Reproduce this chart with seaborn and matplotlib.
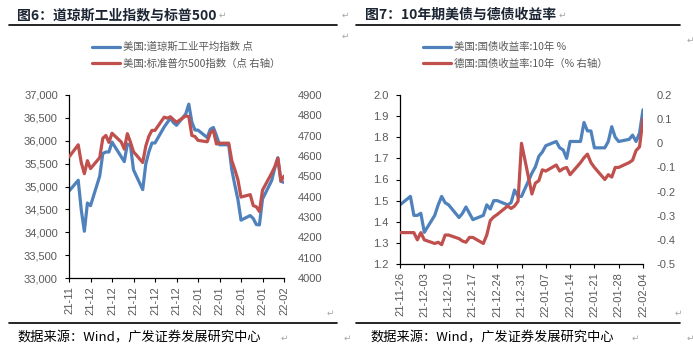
import matplotlib
matplotlib.use("Agg")
import matplotlib.pyplot as plt
import matplotlib.ticker as mticker
import matplotlib.dates as mdates
from matplotlib.lines import Line2D
import pandas as pd
import seaborn as sns

# trading dates shared by both panels (holidays carried forward)
dates = ["2021-11-26", "2021-11-29", "2021-11-30", "2021-12-01", "2021-12-02", "2021-12-03",
         "2021-12-06", "2021-12-07", "2021-12-08", "2021-12-09", "2021-12-10",
         "2021-12-13", "2021-12-14", "2021-12-15", "2021-12-16", "2021-12-17",
         "2021-12-20", "2021-12-21", "2021-12-22", "2021-12-23", "2021-12-24",
         "2021-12-27", "2021-12-28", "2021-12-29", "2021-12-30", "2021-12-31",
         "2022-01-03", "2022-01-04", "2022-01-05", "2022-01-06", "2022-01-07",
         "2022-01-10", "2022-01-11", "2022-01-12", "2022-01-13", "2022-01-14",
         "2022-01-17", "2022-01-18", "2022-01-19", "2022-01-20", "2022-01-21",
         "2022-01-24", "2022-01-25", "2022-01-26", "2022-01-27", "2022-01-28",
         "2022-01-31", "2022-02-01", "2022-02-02", "2022-02-03", "2022-02-04"]

dow = [34899, 35136, 34484, 34022, 34640, 34580,
       35227, 35719, 35754, 35755, 35971,
       35651, 35544, 35927, 35898, 35365,
       34932, 35493, 35754, 35951, 35951,
       36302, 36398, 36489, 36398, 36338,
       36585, 36800, 36407, 36236, 36232,
       36069, 36252, 36290, 36114, 35912,
       35912, 35368, 35029, 34715, 34265,
       34365, 34298, 34168, 34161, 34725,
       35132, 35405, 35629, 35111, 35090]

spx = [4595, 4655, 4567, 4513, 4577, 4538,
       4592, 4687, 4701, 4667, 4712,
       4669, 4634, 4710, 4669, 4621,
       4568, 4649, 4697, 4726, 4726,
       4791, 4786, 4793, 4779, 4766,
       4797, 4794, 4701, 4696, 4677,
       4670, 4713, 4726, 4659, 4663,
       4663, 4577, 4533, 4483, 4398,
       4410, 4356, 4350, 4327, 4432,
       4516, 4547, 4589, 4477, 4501]

us10y = [1.48, 1.52, 1.43, 1.43, 1.44, 1.35,
         1.43, 1.48, 1.52, 1.49, 1.48,
         1.42, 1.44, 1.47, 1.44, 1.41,
         1.43, 1.48, 1.46, 1.50, 1.50,
         1.48, 1.49, 1.55, 1.52, 1.52,
         1.63, 1.66, 1.71, 1.73, 1.76,
         1.78, 1.75, 1.74, 1.70, 1.78,
         1.78, 1.87, 1.83, 1.83, 1.75,
         1.75, 1.78, 1.85, 1.80, 1.78,
         1.79, 1.81, 1.78, 1.82, 1.93]

de10y = [-0.37, -0.37, -0.37, -0.40, -0.37, -0.40,
         -0.415, -0.41, -0.42, -0.38, -0.38,
         -0.395, -0.405, -0.41, -0.39, -0.39,
         -0.415, -0.38, -0.32, -0.305, -0.295,
         -0.26, -0.27, -0.26, -0.24, 0.00,
         -0.21, -0.165, -0.155, -0.11, -0.115,
         -0.09, -0.115, -0.105, -0.10, -0.13,
         -0.08, -0.06, -0.045, -0.08, -0.10,
         -0.15, -0.13, -0.14, -0.10, -0.10,
         -0.08, -0.07, -0.03, -0.015, 0.10]

label_dow = "美国:道琼斯工业平均指数 点"
label_spx = "美国:标准普尔500指数（点 右轴）"
label_us = "美国:国债收益率:10年 %"
label_de = "德国:国债收益率:10年（% 右轴）"

df = pd.DataFrame({"date": pd.to_datetime(dates), "dow": dow, "spx": spx,
                   "us": us10y, "de": de10y})

sns.set_style("ticks")
plt.rcParams["font.family"] = ["Liberation Sans", "Noto Sans CJK SC", "DejaVu Sans"]
cjk = ["Noto Sans CJK SC", "DejaVu Sans"]

BLUE = "#4F81BD"
RED = "#C0504D"
GREY = "#595959"
W, H = 693, 351

fig = plt.figure(figsize=(W / 100, H / 100), dpi=100)


def fx(px):
    return px / W


def fy(py):
    return 1 - py / H


def style_axes(ax, ax2):
    for s in ["top", "right"]:
        ax.spines[s].set_visible(False)
    for s in ax2.spines.values():
        s.set_visible(False)
    ax.spines["left"].set_color("black")
    ax.spines["bottom"].set_color("black")
    ax.spines["left"].set_linewidth(0.9)
    ax.spines["bottom"].set_linewidth(0.9)
    ax.tick_params(axis="y", direction="out", length=3, width=0.8, color="black",
                   labelsize=8, labelcolor=GREY, pad=5)
    ax.tick_params(axis="x", direction="out", length=3, width=0.8, color="black",
                   labelsize=8, labelcolor=GREY, pad=3, labelrotation=90)
    ax2.tick_params(axis="y", length=0, labelsize=8, labelcolor=GREY, pad=10)
    ax.set_xlabel("")
    ax.set_ylabel("")
    ax2.set_xlabel("")
    ax2.set_ylabel("")


tick_dates = pd.date_range("2021-11-26", "2022-02-04", freq="7D")
lw = 2.3

# ---------- left panel ----------
axL = fig.add_axes([fx(69), fy(278), fx(215), (278 - 95) / H])
axL2 = axL.twinx()
sns.lineplot(data=df, x="date", y="dow", ax=axL, color=BLUE, lw=lw, label=label_dow, legend=False)
sns.lineplot(data=df, x="date", y="spx", ax=axL2, color=RED, lw=lw, label=label_spx, legend=False)
axL.set_ylim(33000, 37000)
axL.set_yticks(range(33000, 37001, 500))
axL.yaxis.set_major_formatter(mticker.StrMethodFormatter("{x:,.0f}"))
axL2.set_ylim(4000, 4900)
axL2.set_yticks(range(4000, 4901, 100))
axL.set_xlim(tick_dates[0], tick_dates[-1])
axL.set_xticks(tick_dates)
axL.xaxis.set_major_formatter(mdates.DateFormatter("%y-%m"))
style_axes(axL, axL2)

# ---------- right panel ----------
axR = fig.add_axes([fx(400), fy(264), fx(243), (264 - 95) / H])
axR2 = axR.twinx()
sns.lineplot(data=df, x="date", y="us", ax=axR, color=BLUE, lw=lw, label=label_us, legend=False)
sns.lineplot(data=df, x="date", y="de", ax=axR2, color=RED, lw=lw, label=label_de, legend=False)
axR.set_ylim(1.2, 2.0)
axR.set_yticks([1.2 + 0.1 * i for i in range(9)])
axR.yaxis.set_major_formatter(mticker.FuncFormatter(lambda v, p: f"{v:.1f}"))
axR2.set_ylim(-0.5, 0.2)
axR2.set_yticks([-0.5 + 0.1 * i for i in range(8)])
axR2.yaxis.set_major_formatter(mticker.FuncFormatter(lambda v, p: f"{round(v, 2):g}"))
axR.set_xlim(tick_dates[0], tick_dates[-1])
axR.set_xticks(tick_dates)
axR.xaxis.set_major_formatter(mdates.DateFormatter("%y-%m-%d"))
style_axes(axR, axR2)

# ---------- legends ----------
leg_kw = dict(frameon=False, prop={"family": cjk, "size": 7.5}, labelcolor=GREY,
              handlelength=2.7, handletextpad=0.25, labelspacing=0.6,
              borderaxespad=0, borderpad=0, loc="upper left")
handlesL = [Line2D([], [], color=BLUE, lw=2.3), Line2D([], [], color=RED, lw=2.3)]
fig.legend(handlesL, [label_dow, label_spx], bbox_to_anchor=(fx(92), fy(42)), **leg_kw)
fig.legend(handlesL, [label_us, label_de], bbox_to_anchor=(fx(423), fy(42)), **leg_kw)

# ---------- titles, rules, sources ----------
title_color = "#1c2533"
fig.text(fx(17), fy(15), "图6：道琼斯工业指数与标普500", family=cjk, fontsize=10,
         fontweight="bold", color=title_color, va="center")
fig.text(fx(365), fy(15), "图7：10年期美债与德债收益率", family=cjk, fontsize=10,
         fontweight="bold", color=title_color, va="center")
for x0, x1 in [(9, 337), (356, 680)]:
    fig.add_artist(Line2D([fx(x0), fx(x1)], [fy(25), fy(25)], color="black", lw=1.2))
    fig.add_artist(Line2D([fx(x0), fx(x1)], [fy(323), fy(323)], color="black", lw=1.2))
src = "数据来源：Wind，广发证券发展研究中心"
fig.text(fx(17), fy(338), src, family=cjk, fontsize=9.5, color="black", va="center")
fig.text(fx(370), fy(338), src, family=cjk, fontsize=9.5, color="black", va="center")

# paragraph marks from the source document
mark = "\u21b5"
for px, py in [(222, 15), (345, 15), (345, 36), (347, 338), (284, 338), (330, 313),
               (562, 15), (690, 40), (678, 313), (635, 338), (690, 338)]:
    fig.text(fx(px), fy(py), mark, family=["DejaVu Sans"], fontsize=6.5,
             color="#a6a6a6", va="center", ha="center")

fig.savefig("out.png", dpi=100)
